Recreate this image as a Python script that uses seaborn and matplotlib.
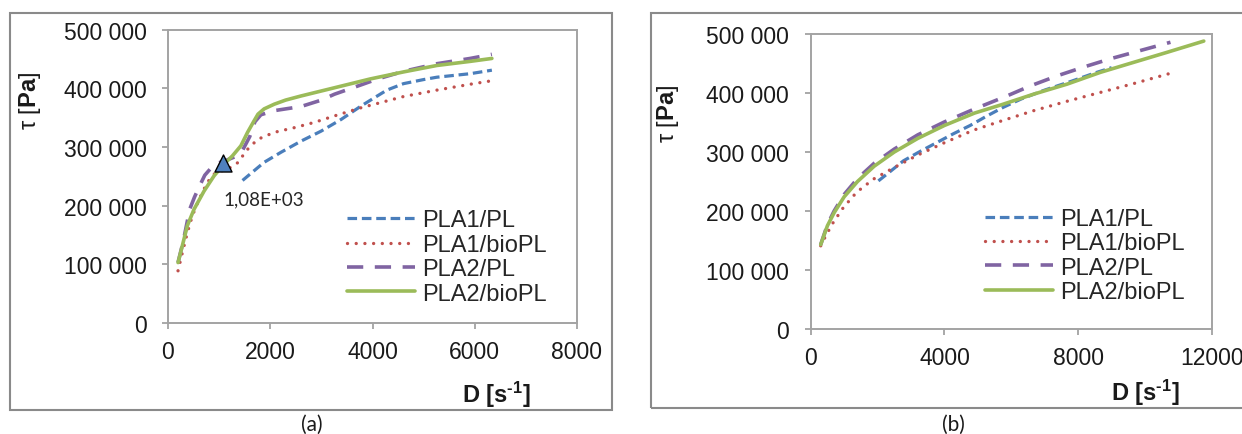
import matplotlib
matplotlib.use("Agg")
import matplotlib.pyplot as plt
import seaborn as sns
import numpy as np
import pandas as pd
from matplotlib.ticker import FuncFormatter, FixedLocator
from matplotlib.patches import Rectangle

# ---------------- data: panel (a) ----------------
a_pla1_pl_x = [1458, 1621, 1882, 2209, 2601, 2993, 3386, 3778, 4000, 4280, 4605, 5000, 5258,
               5910, 6335]
a_pla1_pl_y = [243000, 255000, 274000, 291000, 310000, 327000, 347000, 370000, 382000, 397000,
               408000, 415000, 419000, 425000, 431000]

a_pla1_bio_x = [196, 281, 379, 477, 608, 771, 935, 1163, 1359, 1556, 1752, 2078, 2471, 2863,
                3255, 3778, 3953, 4605, 5258, 5910, 6335]
a_pla1_bio_y = [89000, 120000, 154000, 183000, 211000, 240000, 257000, 262000, 273000, 296000,
                313000, 325000, 333000, 342000, 353000, 367000, 371000, 386000, 397000, 407000, 413000]

a_pla2_pl_x = [196, 300, 425, 520, 620, 720, 850, 950, 1100, 1300, 1450, 1600, 1700, 1817,
               2078, 2600, 3000, 3255, 3778, 4100, 4605, 5258, 5910, 6335]
a_pla2_pl_y = [103000, 140000, 194000, 215000, 234000, 252000, 265000, 272000, 276000, 283000,
               293000, 318000, 343000, 355000, 362000, 369000, 380000, 390000, 406000, 416000,
               429000, 442000, 451000, 458000]

a_pla2_bio_x = [196, 281, 379, 510, 706, 902, 1098, 1261, 1425, 1556, 1686, 1760, 1880, 2078,
                2300, 2601, 3255, 3953, 4605, 5258, 5910, 6335]
a_pla2_bio_y = [103000, 132000, 166000, 194000, 225000, 251000, 271000, 285000, 302000, 325000,
                345000, 356000, 365000, 373000, 380000, 387000, 401000, 416000, 428000, 439000,
                446000, 451000]

a_marker_x = [1080]
a_marker_y = [272000]
a_annot = "1,08E+03"

# ---------------- data: panel (b) ----------------
b_pla1_pl_x = [2024, 2400, 2772, 3272, 3772, 4269, 4769, 5268, 5767, 6300, 7000, 7800, 8500, 9000]
b_pla1_pl_y = [251000, 268000, 285000, 301000, 316000, 331000, 345000, 361000, 376000, 390000,
               405000, 420000, 434000, 443000]

b_pla1_bio_x = [299, 479, 678, 978, 1377, 1875, 2474, 3172, 3970, 4868, 5668, 6665, 7665, 8662,
                9659, 10858]
b_pla1_bio_y = [141000, 161000, 181000, 206000, 232000, 254000, 273000, 294000, 315000, 337000,
                352000, 370000, 386000, 401000, 416000, 435000]

b_pla2_pl_x = [299, 500, 700, 1000, 1400, 1900, 2500, 3200, 4000, 4900, 5867, 6566, 7365, 8163,
               8961, 9859, 10758]
b_pla2_pl_y = [143000, 177000, 200000, 228000, 255000, 281000, 305000, 329000, 351000, 373000,
               395000, 412000, 429000, 444000, 458000, 472000, 486000]

b_pla2_bio_x = [299, 500, 700, 1000, 1400, 1900, 2500, 3200, 4000, 4900, 5700, 6665, 7665, 8662,
                9659, 10659, 11754]
b_pla2_bio_y = [143000, 175000, 197000, 224000, 250000, 276000, 300000, 323000, 345000, 366000,
                380000, 398000, 415000, 435000, 452000, 469000, 488000]

series_labels = ["PLA1/PL", "PLA1/bioPL", "PLA2/PL", "PLA2/bioPL"]
a_xticks = [0, 2000, 4000, 6000, 8000]
b_xticks = [0, 4000, 8000, 12000]
yticks = [0, 100000, 200000, 300000, 400000, 500000]
captions = ["(a)", "(b)"]

# ---------------- styling ----------------
sns.set_theme(style="white")
plt.rcParams["font.family"] = ["Liberation Sans", "DejaVu Sans"]
plt.rcParams["mathtext.fontset"] = "custom"
plt.rcParams["mathtext.rm"] = "Liberation Sans"
plt.rcParams["mathtext.bf"] = "Liberation Sans:bold"
plt.rcParams["mathtext.it"] = "Liberation Sans:italic"

styles = [
    dict(color="#4a7ebb", linewidth=2.3, linestyle=(0, (3.0, 1.5))),
    dict(color="#c0504d", linewidth=2.4, linestyle=(0, (0.01, 2.6)), dash_capstyle="round"),
    dict(color="#8064a2", linewidth=2.6, linestyle=(0, (4.5, 3.2))),
    dict(color="#9bbb59", linewidth=2.6, linestyle="-"),
]

W, H = 1242, 435
fig = plt.figure(figsize=(W / 100, H / 100), dpi=100)
fig.patch.set_facecolor("white")


def px_axes(x0, x1, ytop, ybot):
    return [x0 / W, 1 - ybot / H, (x1 - x0) / W, (ybot - ytop) / H]


axA = fig.add_axes(px_axes(168, 577, 30.7, 324))
axB = fig.add_axes(px_axes(810.7, 1212, 35, 330))

fmt = FuncFormatter(lambda v, p: f"{int(round(v)):,}".replace(",", " "))

panels = [
    (axA, [(a_pla1_pl_x, a_pla1_pl_y), (a_pla1_bio_x, a_pla1_bio_y),
           (a_pla2_pl_x, a_pla2_pl_y), (a_pla2_bio_x, a_pla2_bio_y)], a_xticks, 8000,
     (0.4377, 0.225), (0.802, -0.242), (-0.3375, 0.760)),
    (axB, [(b_pla1_pl_x, b_pla1_pl_y), (b_pla1_bio_x, b_pla1_bio_y),
           (b_pla2_pl_x, b_pla2_pl_y), (b_pla2_bio_x, b_pla2_bio_y)], b_xticks, 12000,
     (0.434, 0.249), (0.833, -0.2136), (-0.356, 0.732)),
]

spine_col = "#a3a3a3"
for ax, data, xt, xmax, leg_anchor, xl_pos, yl_pos in panels:
    for (xs, ys), lab, st in zip(data, series_labels, styles):
        df = pd.DataFrame({"D": xs, "tau": ys})
        sns.lineplot(data=df, x="D", y="tau", ax=ax, label=lab, estimator=None, sort=False, **st)
    ax.set_xlim(0, xmax)
    ax.set_ylim(0, 500000)
    ax.xaxis.set_major_locator(FixedLocator(xt))
    ax.yaxis.set_major_locator(FixedLocator(yticks))
    ax.yaxis.set_major_formatter(fmt)
    for s in ax.spines.values():
        s.set_visible(True)
        s.set_color(spine_col)
        s.set_linewidth(1.4)
    ax.tick_params(axis="both", direction="out", length=4, width=1.3, color=spine_col,
                   labelsize=16.5, labelcolor="#1a1a1a")
    ax.tick_params(axis="x", pad=8, bottom=True)
    ax.tick_params(axis="y", pad=11.5, left=True)
    ax.set_xlabel(r"$\mathbf{D\ [s^{‐1}]}$", fontsize=17, color="#1a1a1a")
    ax.xaxis.set_label_coords(*xl_pos)
    ax.xaxis.label.set_va("center")
    ax.set_ylabel(r"τ [$\mathbf{Pa}$]", fontsize=17, color="#1a1a1a")
    ax.yaxis.set_label_coords(*yl_pos)
    ax.yaxis.label.set_va("center")
    ax.legend(loc="center left", bbox_to_anchor=leg_anchor, frameon=False, fontsize=17,
              handlelength=2.9, handletextpad=0.3, labelspacing=0.1, borderpad=0,
              borderaxespad=0)
    ax.set_facecolor("white")

# triangle marker + annotation in panel (a)
sns.scatterplot(x=a_marker_x, y=a_marker_y, ax=axA, marker="^", s=150, color="#4f81bd",
                edgecolor="black", linewidth=1.0, zorder=5, legend=False)
axA.text(1076, 211000, a_annot, fontsize=13.5, family=["Lato", "DejaVu Sans"], ha="left",
         va="center", color="#262626")

# panel frames
fig.add_artist(Rectangle((10 / W, 1 - 411 / H), (612 - 10) / W, (411 - 14) / H,
                         transform=fig.transFigure, fill=False, edgecolor="#8a8a8a", linewidth=1.5))
fig.add_artist(Rectangle((651 / W, 1 - 409 / H), (1250 - 651) / W, (409 - 14) / H,
                         transform=fig.transFigure, fill=False, edgecolor="#8a8a8a", linewidth=1.5))

fig.text(312 / W, 1 - 425 / H, captions[0], ha="center", va="center", fontsize=15,
         family=["Lato", "DejaVu Sans"], color="#1a1a1a")
fig.text(953 / W, 1 - 425 / H, captions[1], ha="center", va="center", fontsize=15,
         family=["Lato", "DejaVu Sans"], color="#1a1a1a")

fig.savefig("out.png", dpi=100, facecolor="white")
